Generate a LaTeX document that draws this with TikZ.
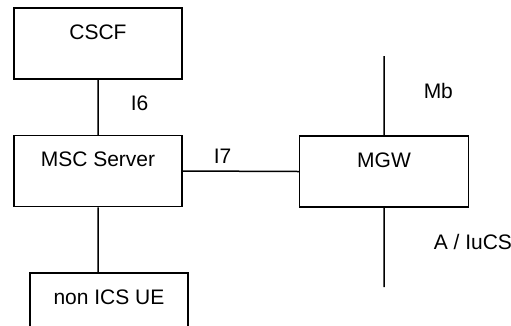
\documentclass[tikz,border=0pt]{standalone}
\usepackage{fontspec}
\setmainfont{Liberation Sans}
\usepackage{tikz}
\usetikzlibrary{positioning}

\begin{document}
\begin{tikzpicture}[x=1pt,y=-1pt,line width=1.5pt,
box/.style={draw,inner sep=0pt,text height=31pt,text depth=40pt,font=\fontsize{21}{25}\selectfont},
lbl/.style={inner sep=0pt,anchor=base west,font=\fontsize{21}{25}\selectfont}]
\clip(0,0)rectangle(511,325);
\node[box,minimum width=168pt](cscf)at(98,43.5){CSCF};
\node[box,minimum width=168pt](msc)at(98,171){MSC Server};
\node[box,minimum width=169pt](mgw)at(384,171.5){MGW};
\node[box,minimum width=158pt](ue)at(109,308.5){non ICS UE};
\coordinate(mbend)at(384,56);
\coordinate(aend)at(384,287);
\draw(cscf.south)--(msc.north)
(msc.south)--(msc.south|-ue.north)
(msc.east)--(mgw.west)
(mbend)--(mgw.north)
(mgw.south)--(aend);
\node[lbl](i6)at(130,110){I6};
\node[lbl](i7)at(213,163){I7};
\node[lbl](mb)at(423,98){Mb};
\node[lbl](aiucs)at(433,249){A / IuCS};
\end{tikzpicture}
\end{document}
